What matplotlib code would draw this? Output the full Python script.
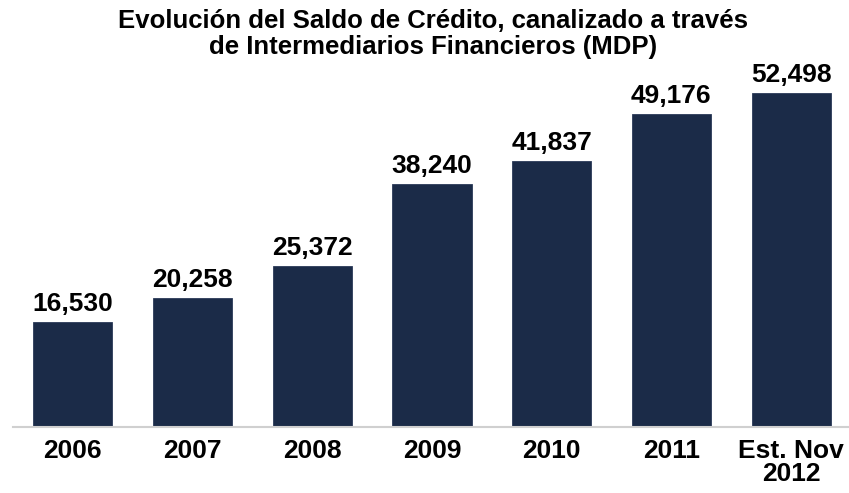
import matplotlib.pyplot as plt

categories = ['2006', '2007', '2008', '2009', '2010', '2011', 'Est. Nov\n2012']
saldo = [16530, 20258, 25372, 38240, 41837, 49176, 52498]

plt.rcParams['font.family'] = ['Liberation Sans', 'DejaVu Sans']
plt.rcParams['font.weight'] = 'bold'

W, H = 849, 493
fig = plt.figure(figsize=(W / 100, H / 100), dpi=100)
ax = fig.add_axes([13 / W, (H - 427) / H, 838 / W, 367 / H])

x = range(len(categories))
ax.bar(x, saldo, width=0.66, color='#1b2b48', edgecolor='#2a3a58', linewidth=0.6, zorder=2)
for xi, v in zip(x, saldo):
    ax.text(xi, v + 900, f'{v:,}', ha='center', va='bottom', fontsize=19, fontweight='bold')

ax.set_xlim(-0.5, 6.5)
ax.set_ylim(0, 52498 * 367 / 334)
ax.set_xticks(list(x))
ax.set_xticklabels(categories, fontsize=19, fontweight='bold', linespacing=0.9)
ax.tick_params(axis='x', length=0, pad=9)
ax.set_yticks([])
for s in ['top', 'right', 'left']:
    ax.spines[s].set_visible(False)
ax.spines['bottom'].set_color('#d0d0d0')
ax.spines['bottom'].set_linewidth(1.5)

fig.text(433 / W, 1 - 9 / H,
         'Evolución del Saldo de Crédito, canalizado a través\nde Intermediarios Financieros (MDP)',
         ha='center', va='top', fontsize=18.5, fontweight='bold', linespacing=1.08)

fig.savefig('out.png', dpi=100)
